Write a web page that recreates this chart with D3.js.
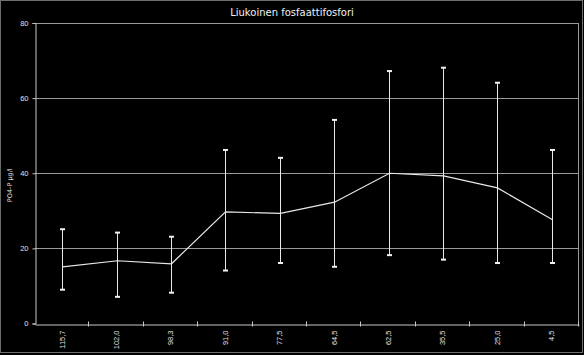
<!DOCTYPE html>
<html>
<head>
<meta charset="utf-8">
<script src="https://cdn.jsdelivr.net/npm/d3@7"></script>
<style>
  html, body { margin: 0; padding: 0; background: #000; }
  svg { display: block; font-family: 'DejaVu Sans', sans-serif; }
</style>
</head>
<body>
<div id="chart"></div>
<script>
const categories = ['115,7', '102,0', '98,3', '91,0', '77,5', '64,5', '62,5', '35,5', '25,0', '4,5'];
const means = [15.1, 16.7, 15.9, 29.7, 29.3, 32.3, 40.0, 39.3, 36.1, 27.6];
const highs = [25.1, 24.2, 23.1, 46.2, 44.1, 54.2, 67.2, 68.1, 64.1, 46.2];
const lows = [9.0, 7.1, 8.2, 14.1, 16.1, 15.1, 18.2, 17.0, 16.1, 16.1];
const yTicks = [0, 20, 40, 60, 80];

const width = 584, height = 355;
const margin = { top: 23, right: 5, bottom: 31.5, left: 35 };
const plotW = width - margin.left - margin.right;
const plotH = height - margin.top - margin.bottom;

const data = categories.map((c, i) => ({ cat: c, value: means[i], hi: highs[i], lo: lows[i] }));

const svg = d3.select('#chart')
  .append('svg')
  .attr('width', width)
  .attr('height', height);

svg.append('rect')
  .attr('width', width).attr('height', height)
  .attr('fill', '#000');

// outer frame
svg.append('rect')
  .attr('x', 0.5).attr('y', 0.5)
  .attr('width', 582).attr('height', 352)
  .attr('fill', 'none')
  .attr('stroke', '#6e6e6e');

let x = d3.scaleBand()
  .domain(categories)
  .range([margin.left, margin.left + plotW]);

let y = d3.scaleLinear()
  .domain([0, 80])
  .range([margin.top + plotH, margin.top]);

// grid lines
svg.append('g')
  .selectAll('line')
  .data(yTicks.slice(1))
  .join('line')
  .attr('x1', margin.left).attr('x2', margin.left + plotW)
  .attr('y1', d => Math.round(y(d)) + 0.5).attr('y2', d => Math.round(y(d)) + 0.5)
  .attr('stroke', '#9a9a9a');

// right frame of plot area
svg.append('line')
  .attr('x1', margin.left + plotW - 0.5).attr('x2', margin.left + plotW - 0.5)
  .attr('y1', margin.top).attr('y2', margin.top + plotH)
  .attr('stroke', '#9a9a9a');

let yAxis = g => g
  .attr('transform', `translate(${margin.left + 0.5},0)`)
  .call(d3.axisLeft(y).tickValues(yTicks).tickSize(3).tickPadding(4))
  .call(g => g.select('.domain').attr('stroke', '#c8c8c8'))
  .call(g => g.selectAll('.tick line').attr('stroke', '#c8c8c8'))
  .call(g => g.selectAll('.tick text').attr('fill', '#e0e0e0').style('font-size', '7.5px'));

let xAxis = g => g
  .attr('transform', `translate(0,${Math.round(margin.top + plotH) + 0.5})`)
  .call(d3.axisBottom(x).tickSize(0).tickPadding(6))
  .call(g => g.select('.domain').attr('stroke', '#c8c8c8'))
  .call(g => g.selectAll('.tick text')
    .attr('fill', '#e0e0e0')
    .style('font-size', '7.5px')
    .attr('transform', 'rotate(-90)')
    .attr('text-anchor', 'end')
    .attr('dy', '0.32em')
    .attr('x', -6)
    .attr('y', 0));

svg.append('g').call(yAxis);
svg.append('g').call(xAxis);

// x tick marks at category boundaries
svg.append('g')
  .selectAll('line')
  .data(categories)
  .join('line')
  .attr('x1', d => Math.round(x(d) + x.bandwidth()) - 0.5)
  .attr('x2', d => Math.round(x(d) + x.bandwidth()) - 0.5)
  .attr('y1', margin.top + plotH - 2)
  .attr('y2', margin.top + plotH + 3)
  .attr('stroke', '#c8c8c8');

// y axis label
svg.append('text')
  .attr('transform', `translate(12,${margin.top + plotH / 2 + 12}) rotate(-90)`)
  .attr('text-anchor', 'middle')
  .attr('fill', '#e0e0e0')
  .style('font-size', '6.5px')
  .text('PO4-P µg/l');

// title
svg.append('text')
  .attr('x', 292)
  .attr('y', 16)
  .attr('text-anchor', 'middle')
  .attr('fill', '#f0f0f0')
  .style('font-size', '10px')
  .text('Liukoinen fosfaattifosfori');

const cx = d => Math.round(x(d.cat) + x.bandwidth() / 2) + 0.5;

// error bars
const eb = svg.append('g');
eb.selectAll('line')
  .data(data)
  .join('line')
  .attr('x1', cx).attr('x2', cx)
  .attr('y1', d => y(d.hi)).attr('y2', d => y(d.lo))
  .attr('stroke', '#e8e8e8');
eb.selectAll('rect.hi')
  .data(data)
  .join('rect')
  .attr('class', 'hi')
  .attr('x', d => cx(d) - 2.5).attr('y', d => y(d.hi) - 1)
  .attr('width', 5).attr('height', 2)
  .attr('fill', '#f0f0f0');
eb.selectAll('rect.lo')
  .data(data)
  .join('rect')
  .attr('class', 'lo')
  .attr('x', d => cx(d) - 2.5).attr('y', d => y(d.lo) - 1)
  .attr('width', 5).attr('height', 2)
  .attr('fill', '#f0f0f0');

let line = d3.line()
  .x(cx)
  .y(d => y(d.value));

svg.append('path')
  .datum(data)
  .attr('fill', 'none')
  .attr('stroke', '#e8e8e8')
  .attr('stroke-width', 1.2)
  .attr('d', line);
</script>
</body>
</html>
